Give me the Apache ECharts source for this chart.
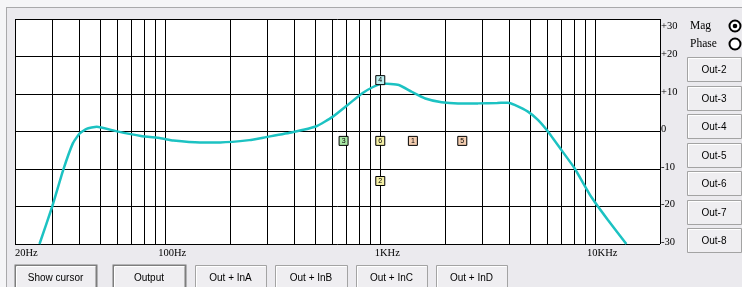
<!DOCTYPE html>
<html>
<head>
<meta charset="utf-8">
<script src="https://cdn.jsdelivr.net/npm/echarts@6/dist/echarts.min.js"></script>
<style>
html, body { margin: 0; padding: 0; background: #f5f5f7; }
#chart { width: 742px; height: 287px; }
</style>
</head>
<body>
<div id="chart"></div>
<script>
// response curve (Hz / dB)
const freqs = [26, 29.8, 33.5, 37.2, 40, 43, 48, 59, 77, 95, 109, 145, 180, 246, 294, 390, 505, 600, 720, 825, 920, 1020, 1220, 1400, 1620, 1930, 2300, 2850, 3500, 3925, 4215, 4860, 5410, 6020, 6950, 8010, 9570, 11450, 13950]
const gains = [-30, -20, -10.3, -3.1, -0.5, 0.7, 1.3, 0.1, -1.2, -1.8, -2.4, -2.9, -2.9, -2.3, -1.5, -0.2, 1.4, 3.9, 7.5, 10.2, 11.8, 12.8, 12.4, 10.6, 8.8, 7.8, 7.5, 7.5, 7.6, 7.7, 7.1, 5.3, 3.1, 0, -4.9, -9.8, -17.4, -23.6, -30]

// filter markers
const markerFreqs = [675, 1000, 1418, 2407, 1000, 1000]
const markerGains = [-2.5, -2.5, -2.5, -2.5, -13.2, 13.7]
const markerLabels = ['3', '6', '1', '5', '2', '4']

// log grid
const gridFreqs = [20, 30, 40, 50, 60, 70, 80, 90, 100, 200, 300, 400, 500, 600, 700, 800, 900, 1000, 2000, 3000, 4000, 5000, 6000, 7000, 8000, 9000, 10000, 20000]

const rightButtons = ['Out-2', 'Out-3', 'Out-4', 'Out-5', 'Out-6', 'Out-7', 'Out-8']
const bottomButtons = ['Show cursor', 'Output', 'Out + InA', 'Out + InB', 'Out + InC', 'Out + InD']

const markerFill = { '1': '#f3cdb0', '2': '#f4efa6', '3': '#a8e6a4', '4': '#bdf0f0', '5': '#f3cdb0', '6': '#f4efa6' }

const chart = echarts.init(document.getElementById('chart'))

// windows style buttons
const button = (x, y, w, h, text, strong) => ({
  type: 'group',
  children: [
    {
      type: 'rect',
      shape: { x: x + 0.5, y: y + 0.5, width: w, height: h },
      style: { fill: '#efeef1', stroke: strong ? '#7d7d7d' : '#a3a3a3', lineWidth: strong ? 2 : 1 }
    },
    {
      type: 'polyline',
      shape: { points: [[x + 1.5, y + h - 0.5], [x + 1.5, y + 1.5], [x + w - 0.5, y + 1.5]] },
      style: { stroke: '#ffffff', lineWidth: 1, fill: null }
    },
    {
      type: 'text',
      x: x + w / 2,
      y: y + 13,
      style: { text, fill: '#000', font: '10px "Liberation Sans"', align: 'center', verticalAlign: 'middle' }
    }
  ]
})

const graphics = [
  { type: 'rect', shape: { x: 6, y: 7, width: 742, height: 290 }, style: { fill: '#ebeaee' }, z: -10 },
  { type: 'line', shape: { x1: 6, y1: 7.5, x2: 742, y2: 7.5 }, style: { stroke: '#a9a9ab', lineWidth: 1 } },
  { type: 'line', shape: { x1: 6.5, y1: 7, x2: 6.5, y2: 287 }, style: { stroke: '#a9a9ab', lineWidth: 1 } },
  { type: 'text', x: 690, y: 26, style: { text: 'Mag', font: '11.5px "Liberation Serif"', fill: '#000', verticalAlign: 'middle' } },
  { type: 'text', x: 690, y: 44, style: { text: 'Phase', font: '11.5px "Liberation Serif"', fill: '#000', verticalAlign: 'middle' } },
  { type: 'circle', shape: { cx: 735, cy: 26, r: 5.5 }, style: { fill: '#fff', stroke: '#000', lineWidth: 2 } },
  { type: 'circle', shape: { cx: 735, cy: 26, r: 2.3 }, style: { fill: '#000' } },
  { type: 'circle', shape: { cx: 735, cy: 44, r: 5.5 }, style: { fill: '#fff', stroke: '#000', lineWidth: 2 } }
]
rightButtons.forEach((t, i) => graphics.push(button(687, Math.round(57 + i * 28.5), 54, 24, t, false)))
const bx = [15, 113, 195, 275, 356, 436]
const bw = [81, 72, 71, 72, 71, 71]
bottomButtons.forEach((t, i) => graphics.push(button(bx[i], 265, bw[i], 30, t, i < 2)))

const option = {
  animation: false,
  textStyle: { fontFamily: 'Liberation Serif' },
  graphic: graphics,
  grid: {
    left: 15, top: 19, width: 645, height: 225,
    show: true, backgroundColor: '#ffffff', borderWidth: 0
  },
  xAxis: {
    type: 'log',
    logBase: 10,
    min: 20,
    max: 20000,
    axisLine: { show: false },
    axisTick: { show: false },
    splitLine: { show: false },
    axisLabel: {
      margin: 4,
      color: '#000',
      fontSize: 10.5,
      alignMinLabel: 'left',
      formatter: (v) => {
        v = Math.round(v)
        if (v === 20) return '20Hz'
        if (v >= 20000) return ''
        if (v < 1000) return '{a|' + v + 'Hz}'
        return '{a|' + v / 1000 + 'KHz}'
      },
      rich: { a: { fontSize: 10.5, color: '#000', padding: [0, 0, 0, 14] } }
    }
  },
  yAxis: {
    type: 'value',
    position: 'right',
    min: -30,
    max: 30,
    interval: 10,
    axisLine: { show: false },
    axisTick: { show: false },
    splitLine: { lineStyle: { color: '#000', width: 1 } },
    axisLabel: {
      margin: 1,
      align: 'left',
      color: '#000',
      formatter: (v) => {
        const s = v > 0 ? '+' + v : '' + v
        return v === 30 ? '{t|' + s + '}' : '{n|' + s + '}'
      },
      rich: {
        t: { fontSize: 10.5, color: '#000', padding: [14, 0, 0, 0] },
        n: { fontSize: 10.5, color: '#000', padding: [0, 0, 4, 0] }
      }
    }
  },
  series: [
    {
      type: 'custom',
      silent: true,
      z: 1,
      data: gridFreqs.map((f) => [f, 0]),
      encode: { x: 0, y: 1 },
      renderItem: (params, api) => {
        const a = api.coord([api.value(0), 30])
        const b = api.coord([api.value(0), -30])
        const x = Math.min(Math.floor(a[0]), 660) + 0.5
        return {
          type: 'line',
          shape: { x1: x, y1: a[1], x2: x, y2: b[1] },
          style: { stroke: '#000', lineWidth: 1 }
        }
      }
    },
    {
      type: 'line',
      z: 3,
      smooth: 0.15,
      showSymbol: false,
      clip: true,
      lineStyle: { color: '#1cc2c2', width: 2.5 },
      data: freqs.map((f, i) => [f, gains[i]])
    },
    {
      type: 'scatter',
      z: 4,
      symbol: 'rect',
      symbolSize: 9,
      data: markerFreqs.map((f, i) => ({
        value: [f, markerGains[i]],
        name: markerLabels[i],
        itemStyle: { color: markerFill[markerLabels[i]] }
      })),
      itemStyle: { borderColor: '#000', borderWidth: 1, opacity: 1 },
      label: {
        show: true,
        position: 'inside',
        formatter: (p) => p.name,
        fontSize: 7,
        fontFamily: 'Liberation Sans',
        color: '#000'
      }
    }
  ]
}

chart.setOption(option)
</script>
</body>
</html>
